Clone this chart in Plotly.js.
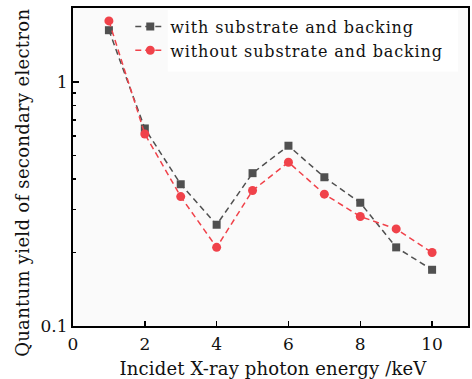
<!DOCTYPE html>
<html>
<head>
<meta charset="utf-8">
<script src="https://cdn.plot.ly/plotly-3.0.1.min.js"></script>
<style>
html,body{margin:0;padding:0;background:#fff;}
#chart{width:472px;height:379px;}
.legendtext{letter-spacing:0.85px;}
.annotation[data-index="0"] .annotation-text{letter-spacing:0.15px;}
.annotation[data-index="1"] .annotation-text{letter-spacing:0.3px;}
</style>
</head>
<body>
<div id="chart"></div>
<script>
const energy = [1, 2, 3, 4, 5, 6, 7, 8, 9, 10];
const withSubstrate = [1.63, 0.645, 0.381, 0.260, 0.423, 0.548, 0.407, 0.320, 0.210, 0.170];
const withoutSubstrate = [1.78, 0.612, 0.339, 0.210, 0.359, 0.469, 0.347, 0.281, 0.250, 0.200];
const seriesNames = ["with substrate and backing", "without substrate and backing"];
const xTicks = [0, 2, 4, 6, 8, 10];
const yTicks = [0.1, 1];
const yTickText = ["0.1", "1"];
const yMinorTicks = [0.2, 0.3, 0.4, 0.5, 0.6, 0.7, 0.8, 0.9];
const xTitle = "Incidet X-ray photon energy /keV";
const yTitle = "Quantum yield of secondary electron";

const font = "DejaVu Serif";

const traces = [
  {
    x: energy, y: withSubstrate, name: seriesNames[0], type: "scatter", mode: "lines+markers",
    line: {color: "#505050", width: 1.5, dash: "6px,4px"},
    marker: {symbol: "square", size: 8, color: "#505050"}
  },
  {
    x: energy, y: withoutSubstrate, name: seriesNames[1], type: "scatter", mode: "lines+markers",
    line: {color: "#f0424a", width: 1.5, dash: "6px,4px"},
    marker: {symbol: "circle", size: 9, color: "#f0424a"}
  }
];

const layout = {
  width: 472, height: 379,
  margin: {l: 73, r: 4, t: 8, b: 53},
  paper_bgcolor: "#ffffff",
  plot_bgcolor: "#fafafa",
  font: {family: font, size: 17, color: "#111"},
  showlegend: true,
  legend: {
    x: 0.145, y: 0.995, xanchor: "left", yanchor: "top",
    bgcolor: "rgba(0,0,0,0)", borderwidth: 0,
    font: {family: font, size: 16, color: "#111"},
    tracegroupgap: 0
  },
  shapes: [{
    type: "rect", xref: "paper", yref: "paper", layer: "below",
    x0: 0.24, x1: 0.975, y0: 0.80, y1: 0.994,
    fillcolor: "#ffffff", line: {width: 0}
  }],
  annotations: [
    {
      text: xTitle, xref: "paper", yref: "paper", x: 0.5076, y: -0.135,
      xanchor: "center", yanchor: "middle", showarrow: false,
      font: {family: font, size: 18, color: "#111"}
    },
    {
      text: yTitle, xref: "paper", yref: "paper", x: -0.1266, y: 0.451,
      xanchor: "center", yanchor: "middle", showarrow: false, textangle: -90,
      font: {family: font, size: 18, color: "#111"}
    }
  ],
  xaxis: {
    range: [0, 11], tickvals: xTicks, ticks: "inside", ticklen: 5, tickwidth: 1.5,
    tickcolor: "#000", showline: true, linecolor: "#000", linewidth: 2, mirror: true,
    showgrid: false, zeroline: false, ticklabelstandoff: 2,
    tickfont: {family: font, size: 17, color: "#111"}
  },
  yaxis: {
    type: "log", range: [-1, Math.log10(2.01)],
    tickmode: "array", tickvals: yTicks, ticktext: yTickText,
    ticks: "inside", ticklen: 6, tickwidth: 1.5, tickcolor: "#000",
    minor: {tickmode: "array", tickvals: yMinorTicks, ticks: "inside", ticklen: 3, tickwidth: 1.5, tickcolor: "#000", showgrid: false},
    showline: true, linecolor: "#000", linewidth: 2, mirror: true,
    showgrid: false, zeroline: false,
    tickfont: {family: font, size: 17, color: "#111"}
  }
};

Plotly.newPlot("chart", traces, layout, {displayModeBar: false, staticPlot: true});
</script>
</body>
</html>
